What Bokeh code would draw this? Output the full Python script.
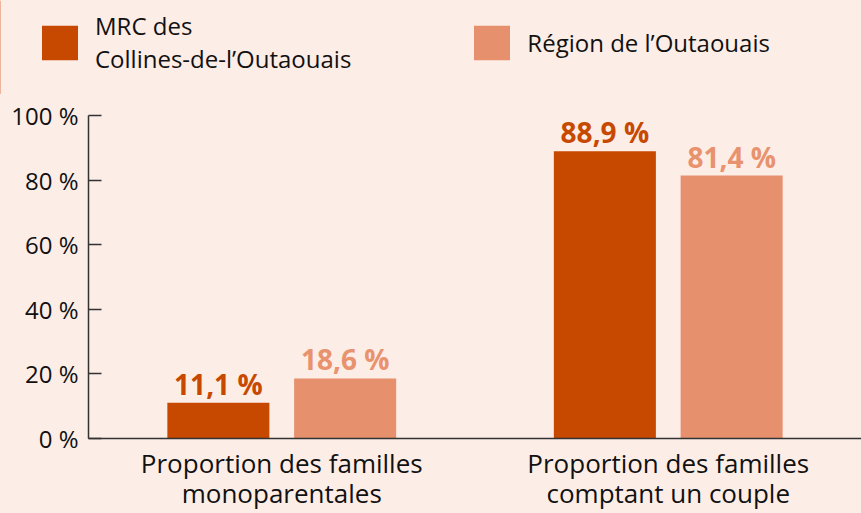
from bokeh.plotting import figure
from bokeh.layouts import column
from bokeh.models import (FactorRange, Range1d, FixedTicker, PrintfTickFormatter,
                          Legend, LegendItem, ColumnDataSource)
from bokeh.transform import dodge
from bokeh.core.properties import value
from bokeh.embed import file_html
from bokeh.resources import INLINE

categories = ["Proportion des familles\nmonoparentales",
              "Proportion des familles\ncomptant un couple"]
series_names = ["MRC des\nCollines-de-l\u2019Outaouais", "R\u00e9gion de l\u2019Outaouais"]
mrc_values = [11.1, 88.9]
region_values = [18.6, 81.4]
y_ticks = [0, 20, 40, 60, 80, 100]

FONT = "Open Sans"
BG = "#FDEDE7"
DARK = "#C74900"
LIGHT = "#E6906D"
LIGHT_TXT = "#E8926E"

def fmt(v):
    return ("%.1f" % v).replace(".", ",") + " %"

src = ColumnDataSource(dict(
    cat=categories,
    mrc=mrc_values,
    region=region_values,
    mrc_lbl=[fmt(v) for v in mrc_values],
    region_lbl=[fmt(v) for v in region_values],
))

# ---- legend strip ----
lf = figure(width=861, height=94, x_range=Range1d(0, 1), y_range=Range1d(0, 1),
            output_backend="svg", toolbar_location=None,
            x_axis_location=None, y_axis_location=None,
            background_fill_color=None, border_fill_color=BG,
            min_border_left=0, min_border_right=0, min_border_top=0, min_border_bottom=0)
lf.frame_align = False
lf.outline_line_color = None
lf.xgrid.visible = False
lf.ygrid.visible = False
# legend swatches only (placed outside the visible range)
lr1 = lf.vbar(x=[-5], top=[1], width=0.1, fill_color=DARK, line_color=None)
lr2 = lf.vbar(x=[-5], top=[1], width=0.1, fill_color=LIGHT, line_color=None)
legend = Legend(items=[LegendItem(label=series_names[0], renderers=[lr1]),
                       LegendItem(label=series_names[1], renderers=[lr2])],
                orientation="horizontal", location=(37, 19),
                glyph_width=45, glyph_height=43, label_standoff=13, spacing=118,
                padding=0, margin=0, border_line_color=None, background_fill_alpha=0,
                label_text_font=FONT, label_text_font_size="24px", label_text_color="#111111",
                label_text_line_height=0.9)
lf.add_layout(legend)

# ---- chart ----
p = figure(width=861, height=419, x_range=FactorRange(*categories, range_padding=0),
           y_range=Range1d(0, 100), output_backend="svg", toolbar_location=None,
           background_fill_color=None, border_fill_color=BG,
           min_border_left=88, min_border_right=0, min_border_top=21, min_border_bottom=75)
p.frame_align = False
p.outline_line_color = None
p.xgrid.visible = False
p.ygrid.visible = False

off = 0.164
w = 0.264
p.vbar(x=dodge("cat", -off, range=p.x_range), top="mrc", width=w, source=src,
       fill_color=DARK, line_color=None)
p.vbar(x=dodge("cat", off, range=p.x_range), top="region", width=w, source=src,
       fill_color=LIGHT, line_color=None)

p.text(x=dodge("cat", -off, range=p.x_range), y="mrc", text="mrc_lbl", source=src,
       text_align="center", text_baseline="bottom", y_offset=0,
       text_font=value(FONT), text_font_style="bold", text_font_size="28px", text_color=DARK)
p.text(x=dodge("cat", off, range=p.x_range), y="region", text="region_lbl", source=src,
       text_align="center", text_baseline="bottom", y_offset=0,
       text_font=value(FONT), text_font_style="bold", text_font_size="28px", text_color=LIGHT_TXT)

ya = p.yaxis[0]
ya.ticker = FixedTicker(ticks=y_ticks)
ya.formatter = PrintfTickFormatter(format="%d %%")
ya.major_tick_in = 13
ya.major_tick_out = 0
ya.minor_tick_line_color = None
ya.axis_line_color = "#333333"
ya.axis_line_width = 1.5
ya.major_tick_line_color = "#333333"
ya.major_tick_line_width = 1.5
ya.major_label_text_font = FONT
ya.major_label_text_font_size = "24px"
ya.major_label_text_color = "#111111"
ya.major_label_standoff = 10

xa = p.xaxis[0]
xa.major_tick_line_color = None
xa.minor_tick_line_color = None
xa.axis_line_color = "#333333"
xa.axis_line_width = 1.5
xa.major_label_text_font = FONT
xa.major_label_text_font_size = "26px"
xa.major_label_text_color = "#111111"
xa.major_label_text_line_height = 0.84
xa.major_label_standoff = 0

layout = column(lf, p, spacing=0, styles={"background-color": BG})
open("out.html", "w").write(file_html(layout, INLINE))
